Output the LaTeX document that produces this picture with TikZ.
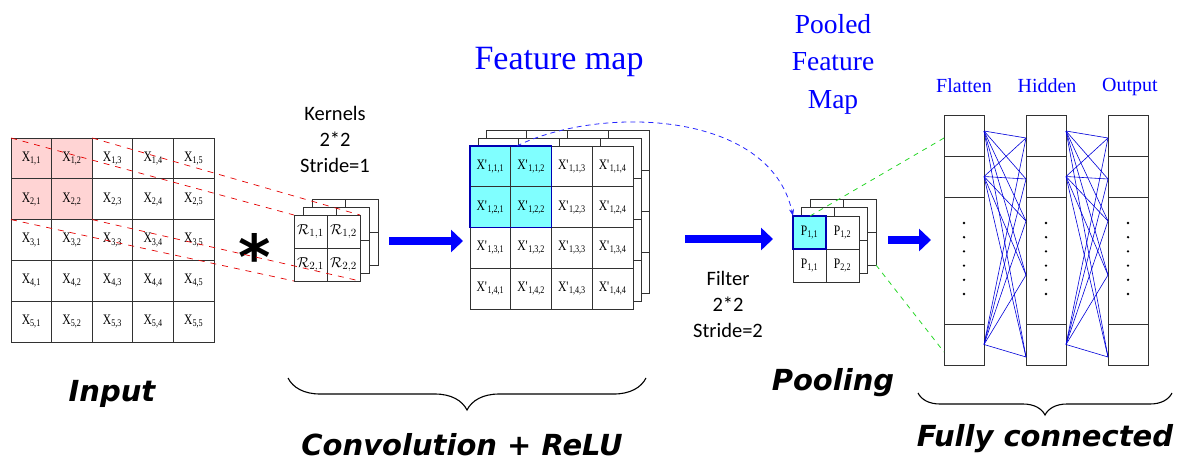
\documentclass[tikz,border=0pt]{standalone}
\usepackage{fontspec}
\setmainfont{Liberation Serif}
\newfontfamily\condserif[FakeStretch=0.8]{Liberation Serif}
\newfontfamily\calibfont{Carlito}
\newfontfamily\labfont{DejaVu Sans}
\usetikzlibrary{arrows.meta,decorations.pathreplacing,calc}
\definecolor{pinkfill}{RGB}{255,212,212}
\definecolor{cyanfill}{RGB}{128,255,255}
\definecolor{gline}{RGB}{50,50,50}
\definecolor{limegreen}{RGB}{40,215,40}
\newcommand\cellfont{\condserif\fontsize{14.5}{14.5}\selectfont}
\newcommand\bottomfont{\labfont\fontsize{29}{29}\selectfont\bfseries\itshape}
\begin{document}
\begin{tikzpicture}[x=1pt,y=-1pt,
  gridline/.style={draw=gline, line width=0.9pt},
  cellbox/.style={gridline, inner sep=0pt, outer sep=0pt, font=\cellfont},
  incell/.style={cellbox, minimum width=40.6pt, minimum height=40.8pt},
  kcell/.style={cellbox, minimum size=33pt, font=\fontsize{15}{15}\selectfont},
  fmcell/.style={cellbox, minimum size=40.75pt},
  pcell/.style={cellbox, minimum size=33pt},
  fccell/.style={gridline, inner sep=0pt, outer sep=0pt, minimum width=40pt},
  bigarrow/.style={draw=blue, line width=8pt, -{Triangle[length=12pt,width=22pt]}},
  reddash/.style={red!90!black, dash pattern=on 6pt off 6pt, line width=0.7pt},
  greendash/.style={limegreen, dash pattern=on 5pt off 5pt, line width=0.8pt},
  bluedash/.style={blue!85!white, dash pattern=on 5pt off 4pt, line width=0.8pt, -{Stealth[length=7pt,width=5pt]}},
  fcline/.style={blue!85!black, line width=0.6pt},
  bluetitle/.style={text=blue, inner sep=0pt},
  sanstext/.style={font=\calibfont\fontsize{20.5}{26}\selectfont, align=center, inner sep=0pt},
  bottomlabel/.style={font=\bottomfont, inner sep=0pt, anchor=base},
  bracestyle/.style={decorate, line width=1.1pt, draw=black}
]
\useasboundingbox (0,0) rectangle (1182,463);

% ---------------- Input ----------------
\foreach \r in {1,...,5}{\foreach \c in {1,...,5}{
  \ifnum\r<3 \ifnum\c<3 \def\fc{pinkfill}\else\def\fc{white}\fi\else\def\fc{white}\fi
  \node[incell, fill=\fc] (in-\r-\c) at ({11+(\c-0.5)*40.6},{138+(\r-0.5)*40.8}) {X\textsubscript{\r,\c}};
}}

% ---------------- Kernel ----------------
\foreach \k in {2,1}{
  \begin{scope}[shift={(9*\k,-8*\k)}]
    \draw[gridline, fill=white] (294,215) rectangle ++(66,66);
    \draw[gridline] (327,215) -- ++(0,66);
    \draw[gridline] (294,248) -- ++(66,0);
  \end{scope}
}
\foreach \r in {1,2}{\foreach \c in {1,2}{
  \node[kcell, fill=white] (k-\r-\c) at ({294+(\c-0.5)*33},{215+(\r-0.5)*33}) {$\mathcal{R}_{\r,\c}$};
}}
\node[sanstext] (kerneltext) at (335,139) {Kernels\\2*2\\Stride=1};
\node[inner sep=0pt, anchor=center, font=\labfont\bfseries\fontsize{62}{62}\selectfont] (ast) at (255,256) {*};

% red dashed projections
\draw[reddash] (in-1-1.north west) -- (k-1-1.north west);
\draw[reddash] (in-1-2.north east) -- (k-1-2.north east);
\draw[reddash] (in-2-1.south west) -- (k-2-1.south west);
\draw[reddash] (in-2-2.south east) -- (k-2-2.south east);

% ---------------- Feature map ----------------
\foreach \k in {2,1}{
  \begin{scope}[shift={(8*\k,-8*\k)}]
    \draw[gridline, fill=white] (470,146) rectangle ++(163,163);
    \foreach \i in {1,2,3}{
      \draw[gridline] ({470+\i*40.75},146) -- ++(0,163);
      \draw[gridline] (470,{146+\i*40.75}) -- ++(163,0);
    }
  \end{scope}
}
\foreach \r in {1,...,4}{\foreach \c in {1,...,4}{
  \ifnum\r<3 \ifnum\c<3 \def\fc{cyanfill}\else\def\fc{white}\fi\else\def\fc{white}\fi
  \node[fmcell, fill=\fc] (fm-\r-\c) at ({470+(\c-0.5)*40.75},{146+(\r-0.5)*40.75}) {X\textquotesingle\textsubscript{1,\r,\c}};
}}
\draw[blue!70!black, line width=1.2pt] (fm-1-1.north west) rectangle (fm-2-2.south east);
\node[bluetitle, anchor=base, font=\fontsize{34}{34}\selectfont] (fmtitle) at (559,69) {Feature map};

% ---------------- Pooled ----------------
\foreach \k in {2,1}{
  \begin{scope}[shift={(8.5*\k,-8.5*\k)}]
    \draw[gridline, fill=white] (793,216) rectangle ++(66,66);
    \draw[gridline] (826,216) -- ++(0,66);
    \draw[gridline] (793,249) -- ++(66,0);
  \end{scope}
}
\foreach \r/\c/\lab in {1/1/{1,1},1/2/{1,2},2/1/{1,1},2/2/{2,2}}{
  \node[pcell, fill=white] (p-\r-\c) at ({793+(\c-0.5)*33},{216+(\r-0.5)*33}) {P\textsubscript{\lab}};
}
\fill[cyanfill] (p-1-1.north west) rectangle (p-1-1.south east);
\node[pcell] at (p-1-1) {P\textsubscript{1,1}};
\draw[blue!70!black, line width=1.1pt] (p-1-1.north west) rectangle (p-1-1.south east);
\node[bluetitle, align=center, font=\fontsize{27.5}{37.5}\selectfont] (pooltitle) at (833,64) {Pooled\\Feature\\Map};
\node[sanstext] (filtertext) at (728,304) {Filter\\2*2\\Stride=2};

% blue dashed curve
\coordinate (curvestart) at ($(fm-1-2.north west)+(6,0)$);
\draw[bluedash] (curvestart) .. controls (600,105) and (770,110) .. (p-1-1.north west);

% ---------------- Fully connected ----------------
\foreach \L/\x in {fl/964, hd/1046, op/1128}{
  \node[fccell, minimum height=41pt] (\L-1) at (\x,135.5) {};
  \node[fccell, minimum height=41pt] (\L-2) at (\x,176.5) {};
  \node[fccell, minimum height=127pt] (\L-3) at (\x,260.5) {};
  \node[fccell, minimum height=41pt] (\L-4) at (\x,344.5) {};
  \foreach \i in {0,...,5}{ \fill (\x,{223+\i*14.2}) circle (1.3pt); }
  \coordinate (\L-s1) at ($(\L-1.north east)+(0,16)$);
  \coordinate (\L-s2) at (\L-2.east);
  \coordinate (\L-s3) at (\L-4.east);
  \coordinate (\L-t1) at ($(\L-1.north west)+(0,23)$);
  \coordinate (\L-t2) at ($(\L-2.north west)+(0,23)$);
  \coordinate (\L-t3) at ($(\L-3.north west)+(0,24)$);
  \coordinate (\L-t4) at ($(\L-3.north west)+(0,78)$);
  \coordinate (\L-t5) at ($(\L-4.north west)+(0,33)$);
}
\foreach \a/\b in {fl/hd, hd/op}{
  \foreach \s in {1,2,3}{\foreach \t in {1,...,5}{
    \draw[fcline] (\a-s\s) -- (\b-t\t);
  }}
}
\node[bluetitle, anchor=base, font=\fontsize{20}{20}\selectfont] (flt) at (964,92) {Flatten};
\node[bluetitle, anchor=base, font=\fontsize{20}{20}\selectfont] (hdt) at (1047,92) {Hidden};
\node[bluetitle, anchor=base, font=\fontsize{20}{20}\selectfont] (opt) at (1130,91) {Output};

% green dashed
\coordinate (gstart1) at ($(p-1-1.north east)+(-16,0)$);
\coordinate (gstart2) at ($(p-2-2.south east)+(17,-17)$);
\draw[greendash] (gstart1) -- (fl-t1);
\draw[greendash] (gstart2) -- ($(fl-4.north west)+(0,28)$);

% ---------------- Big arrows ----------------
\coordinate (a1s) at (389,241); \coordinate (a1e) at (463,241);
\coordinate (a2s) at (685,239); \coordinate (a2e) at (773,239);
\coordinate (a3s) at (888,240); \coordinate (a3e) at (931,240);
\draw[bigarrow] (a1s) -- (a1e);
\draw[bigarrow] (a2s) -- (a2e);
\draw[bigarrow] (a3s) -- (a3e);

% ---------------- Bottom labels and braces ----------------
\node[bottomlabel] (inputlab) at (112,401) {Input};
\node[bottomlabel] (poollab) at (833,390) {Pooling};
\node[bottomlabel] (convlab) at (462,455) {Convolution + ReLU};
\node[bottomlabel] (fclab) at (1045,446) {Fully connected};
\coordinate (cbl) at (288,378); \coordinate (cbr) at (646,378);
\coordinate (fbl) at (918,393); \coordinate (fbr) at (1172,393);
\draw[bracestyle, decoration={brace, amplitude=32pt, aspect=0.5}] (cbr) -- (cbl);
\draw[bracestyle, decoration={brace, amplitude=22pt, aspect=0.5}] (fbr) -- (fbl);
\end{tikzpicture}
\end{document}
